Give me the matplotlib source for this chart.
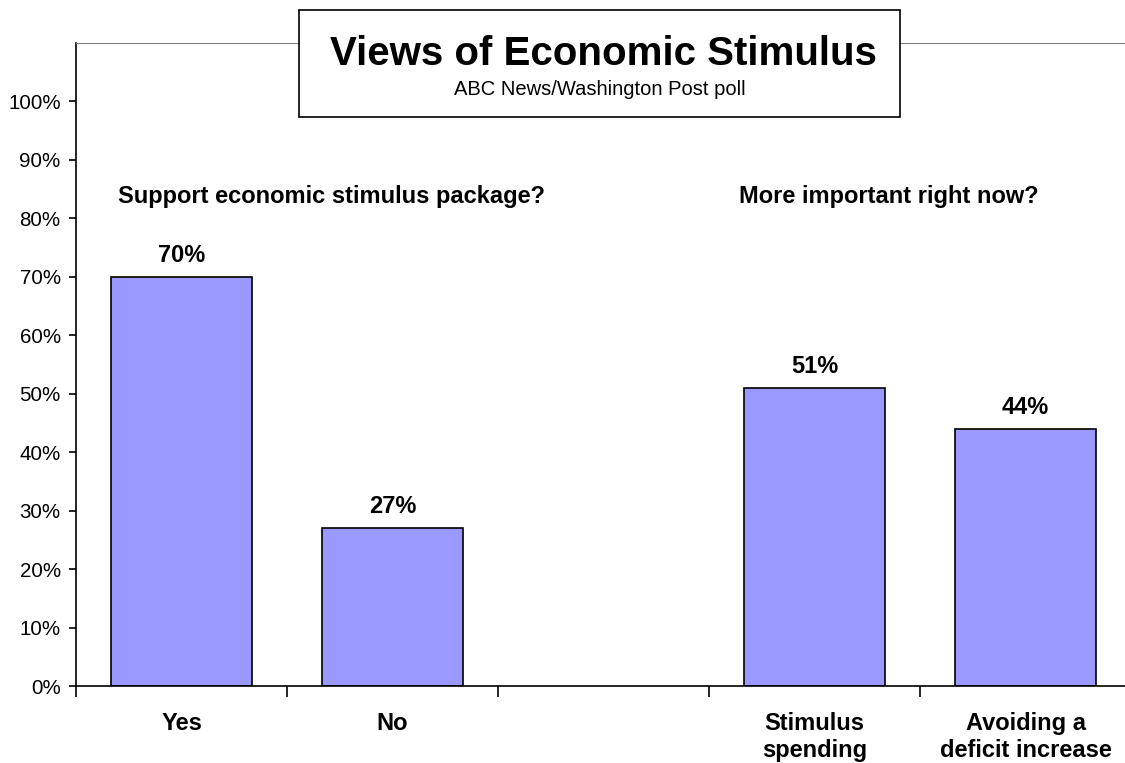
import matplotlib
matplotlib.use("Agg")
import matplotlib.pyplot as plt
from matplotlib.patches import Rectangle

plt.rcParams["font.family"] = ["Liberation Sans", "DejaVu Sans"]

categories = ["Yes", "No", "", "Stimulus\nspending", "Avoiding a\ndeficit increase"]
values = [70, 27, None, 51, 44]
groups = ["Support economic stimulus package?", "More important right now?"]
yticks = list(range(0, 101, 10))

BAR = "#9999ff"
W, H = 1125, 763
PX = (686 - 43) / 110  # pixels per percentage point

fig = plt.figure(figsize=(W / 100, H / 100), dpi=100)
# plot area runs off the right edge, like the original
ax = fig.add_axes([76 / W, (H - 686) / H, (1131 - 76) / W, (686 - 43) / H])
ax.set_xlim(-0.5, 4.5)
ax.set_ylim(0, 110)

xs = [i for i, v in enumerate(values) if v is not None]
vs = [v for v in values if v is not None]
ax.bar(xs, vs, width=0.668, color=BAR, edgecolor="black", lw=1.2, zorder=2)
for x, v in zip(xs, vs):
    ax.text(x, v + 15 / PX, f"{v}%", ha="center", va="baseline", fontsize=17,
            fontweight="bold")

ax.spines["right"].set_visible(False)
ax.spines["top"].set_color("#808080")
ax.spines["left"].set_linewidth(1.2)
ax.spines["bottom"].set_linewidth(1.2)

ax.set_yticks(yticks)
ax.set_yticklabels([f"{t}%" for t in yticks], fontsize=14.8)
ax.tick_params(axis="y", direction="out", length=5, width=1.2, pad=6)

ax.set_xticks([i - 0.5 for i in range(6)])
ax.set_xticklabels([])
ax.tick_params(axis="x", direction="out", length=8, width=1.2)
for i, lab in enumerate(categories):
    for k, line in enumerate(lab.split("\n")):
        if line:
            ax.text(i, -(44 + 27 * k) / PX, line, ha="center", va="baseline",
                    fontsize=17, fontweight="bold")

ax.text(0.71, (686 - 203) / PX, groups[0], ha="center", va="baseline",
        fontsize=17, fontweight="bold")
ax.text(3.35, (686 - 203) / PX, groups[1], ha="center", va="baseline",
        fontsize=17, fontweight="bold")

# title box
fig.patches.append(Rectangle((299 / W, 1 - 117 / H), (900 - 299) / W, (117 - 10) / H,
                             transform=fig.transFigure, fc="white", ec="black",
                             lw=1.2, zorder=5))
fig.text(603 / W, 1 - 65 / H, "Views of Economic Stimulus", ha="center",
         va="baseline", fontsize=29, fontweight="bold", zorder=6)
fig.text(600 / W, 1 - 95 / H, "ABC News/Washington Post poll", ha="center",
         va="baseline", fontsize=14.5, zorder=6)

fig.savefig("out.png", dpi=100, facecolor="white")
